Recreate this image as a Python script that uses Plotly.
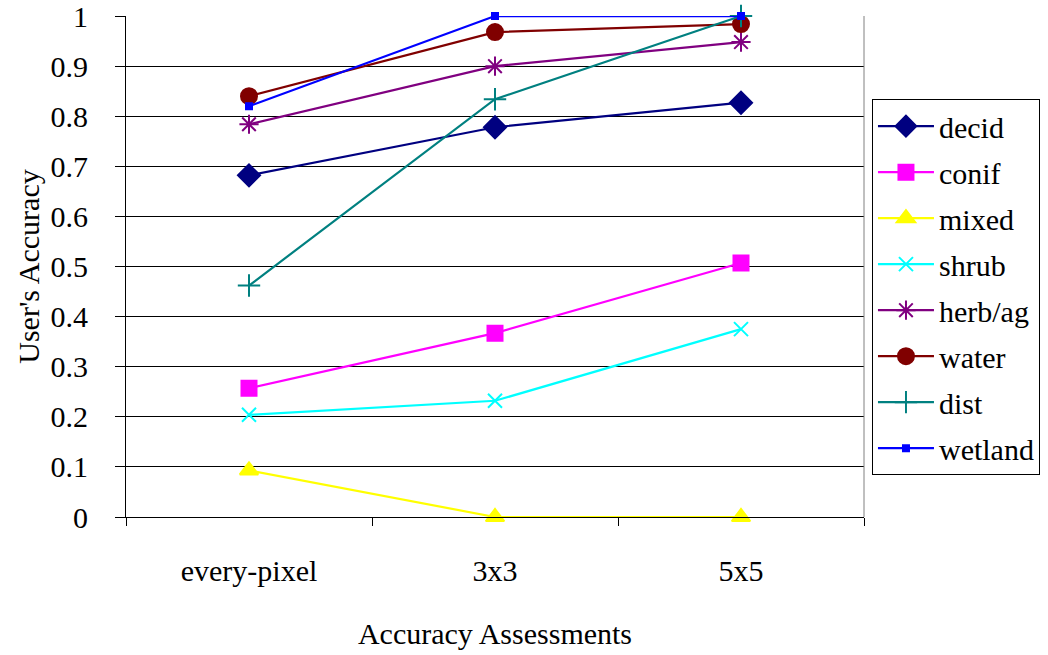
import plotly.graph_objects as go

categories = ["every-pixel", "3x3", "5x5"]
decid = [0.682, 0.778, 0.827]
conif = [0.257, 0.367, 0.507]
mixed = [0.093, 0.0, 0.0]
shrub = [0.204, 0.232, 0.375]
herb_ag = [0.784, 0.900, 0.948]
water = [0.840, 0.968, 0.984]
dist = [0.462, 0.834, 1.0]
wetland = [0.820, 1.0, 1.0]

series = [
    ("decid", decid, "#000080", "diamond", 17),
    ("conif", conif, "#FF00FF", "square", 15),
    ("mixed", mixed, "#FFFF00", "triangle-up", 16),
    ("shrub", shrub, "#00FFFF", "x-thin-open", 14),
    ("herb/ag", herb_ag, "#800080", "asterisk-open", 16),
    ("water", water, "#800000", "circle", 16),
    ("dist", dist, "#008080", "cross-thin-open", 16),
    ("wetland", wetland, "#0000FF", "square", 6),
]

FONT = "Liberation Serif"
FS = 30

fig = go.Figure()
for name, vals, color, sym, size in series:
    fig.add_trace(go.Scatter(
        x=categories, y=vals, name=name, mode="lines+markers",
        legendgroup=name, cliponaxis=False,
        line=dict(color=color, width=2.2),
        marker=dict(symbol=sym, size=size, color=color,
                    line=dict(color=color, width=2)),
    ))

fig.update_layout(
    width=1048, height=655,
    margin=dict(l=126, r=184, t=16, b=138, autoexpand=False),
    paper_bgcolor="white", plot_bgcolor="white",
    font=dict(family=FONT, size=FS, color="black"),
    showlegend=True,
    legend=dict(
        x=1.0108, y=0.834, xanchor="left", yanchor="top",
        bordercolor="black", borderwidth=1,
        font=dict(family=FONT, size=FS, color="black"),
        tracegroupgap=4, traceorder="grouped", itemwidth=56,
    ),
    xaxis=dict(
        type="category", range=[-0.5, 2.5], automargin=False,
        tickson="boundaries", ticks="outside", ticklen=8, tickcolor="black",
        showline=True, linecolor="black", linewidth=1,
        showgrid=False, ticklabelstandoff=27,
        tickfont=dict(family=FONT, size=FS),
        title=dict(text="Accuracy Assessments", standoff=36,
                   font=dict(family=FONT, size=FS)),
    ),
    yaxis=dict(
        range=[0, 1.0001], tickvals=[0, 0.1, 0.2, 0.3, 0.4, 0.5, 0.6, 0.7, 0.8, 0.9, 1],
        ticktext=["0", "0.1", "0.2", "0.3", "0.4", "0.5", "0.6", "0.7", "0.8", "0.9", "1"],
        automargin=False, ticklabeloverflow="allow",
        ticks="outside", ticklen=10, tickcolor="black",
        showline=True, linecolor="black", linewidth=1,
        showgrid=True, gridcolor="black", gridwidth=1,
        zeroline=False, ticklabelstandoff=21,
        tickfont=dict(family=FONT, size=FS),
        title=dict(text="User's Accuracy", standoff=2,
                   font=dict(family=FONT, size=FS)),
    ),
    shapes=[dict(type="line", xref="paper", yref="paper", x0=1, x1=1, y0=0, y1=1,
                 line=dict(color="#808080", width=1))],
)

fig.write_html("out.html", config={"displayModeBar": False},
               post_script="document.body.style.margin='0';")
